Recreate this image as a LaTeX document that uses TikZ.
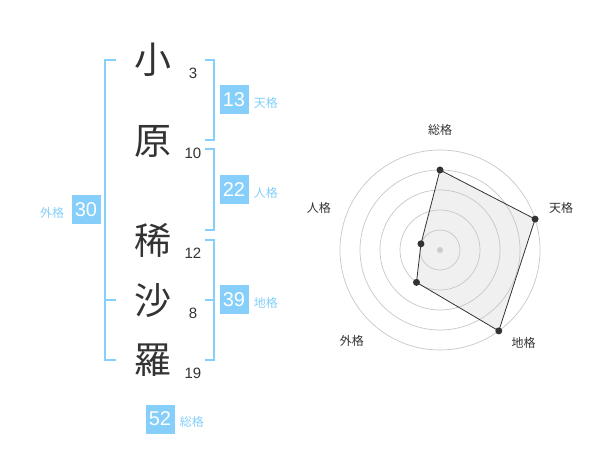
\documentclass[tikz,border=0pt]{standalone}
\usepackage{fontspec}
\setmainfont{Noto Sans CJK JP}
\newfontfamily\digits{Liberation Sans}
\usetikzlibrary{positioning}
\definecolor{sky}{HTML}{85CFFA}
\definecolor{ink}{HTML}{333333}
\definecolor{webfill}{HTML}{F0F0F0}

\tikzstyle{kanji} = [font=\fontsize{37}{37}\selectfont, text=ink, inner sep=0pt]
\tikzstyle{strokes} = [font=\digits\fontsize{15}{15}\selectfont, text=ink, inner sep=0pt]
\tikzstyle{score} = [fill=sky, text=white, minimum width=29pt, minimum height=29pt, inner sep=0pt, font=\digits\fontsize{20}{20}\selectfont]
\tikzstyle{kaku} = [text=sky, font=\fontsize{12}{12}\selectfont, inner sep=0pt]
\tikzstyle{bracket} = [draw=sky, line width=2pt]
\tikzstyle{ring} = [draw=black!22, line width=0.7pt]
\tikzstyle{axis} = [text=ink, font=\fontsize{12}{12}\selectfont, inner sep=0pt]
\tikzstyle{web} = [draw=ink, line width=0.8pt]
\tikzstyle{dot} = [circle, fill=ink, inner sep=0pt, minimum size=7pt]

\begin{document}
\begin{tikzpicture}[x=1pt,y=-1pt]
		\useasboundingbox (0,0) rectangle (600,470);

		% name
		\node (k1) [kanji] at (153,60) {小};
		\node (k2) [kanji] at (153,141) {原};
		\node (k3) [kanji] at (153,240) {稀};
		\node (k4) [kanji] at (153,301) {沙};
		\node (k5) [kanji] at (153,360) {羅};

		\node (n1) [strokes] at (193,73) {3};
		\node (n2) [strokes] at (193,153) {10};
		\node (n3) [strokes] at (193,253) {12};
		\node (n4) [strokes] at (193,313) {8};
		\node (n5) [strokes] at (193,373) {19};

		% brackets
		\draw [bracket] (116,60) -- (105,60) -- (105,360) -- (116,360);
		\draw [bracket] (105,300) -- (116,300);
		\draw [bracket] (205,60) -- (214,60) -- (214,140) -- (205,140);
		\draw [bracket] (205,149) -- (214,149) -- (214,230) -- (205,230);
		\draw [bracket] (205,240) -- (214,240) -- (214,360) -- (205,360);
		\draw [bracket] (205,300) -- (214,300);

		% scores
		\node (gai) [score] at (86,210) {30};
		\node (gail) [kaku, left=7pt of gai, yshift=-3pt] {外格};
		\node (ten) [score] at (234,100) {13};
		\node (tenl) [kaku, right=5pt of ten, yshift=-3pt] {天格};
		\node (jin) [score] at (234,190) {22};
		\node (jinl) [kaku, right=5pt of jin, yshift=-3pt] {人格};
		\node (chi) [score] at (234,300) {39};
		\node (chil) [kaku, right=5pt of chi, yshift=-3pt] {地格};
		\node (sou) [score] at (160,419) {52};
		\node (soul) [kaku, right=5pt of sou, yshift=-3pt] {総格};

		% radar
		\begin{scope}[shift={(440,250)}]
		\coordinate (rsou) at (90:80pt);
		\coordinate (rten) at (18:100pt);
		\coordinate (rchi) at (-54:100pt);
		\coordinate (rgai) at (-126:40pt);
		\coordinate (rjin) at (162:20pt);
		\fill [webfill] (rsou) -- (rten) -- (rchi) -- (rgai) -- (rjin) -- cycle;
		\foreach \r in {20,40,60,80,100}
			\draw [ring] (0pt,0pt) circle (\r pt);
		\fill [black!20] (0pt,0pt) circle (3pt);
		\draw [web] (rsou) -- (rten) -- (rchi) -- (rgai) -- (rjin) -- cycle;
		\foreach \p in {rsou,rten,rchi,rgai,rjin}
			\node [dot] at (\p) {};
		\node (asou) [axis] at (90:120pt) {総格};
		\node (aten) [axis] at (19:128pt) {天格};
		\node (achi) [axis] at (-48:125pt) {地格};
		\node (agai) [axis] at (-134:127pt) {外格};
		\node (ajin) [axis] at (161:128pt) {人格};
		\end{scope}
\end{tikzpicture}
\end{document}
